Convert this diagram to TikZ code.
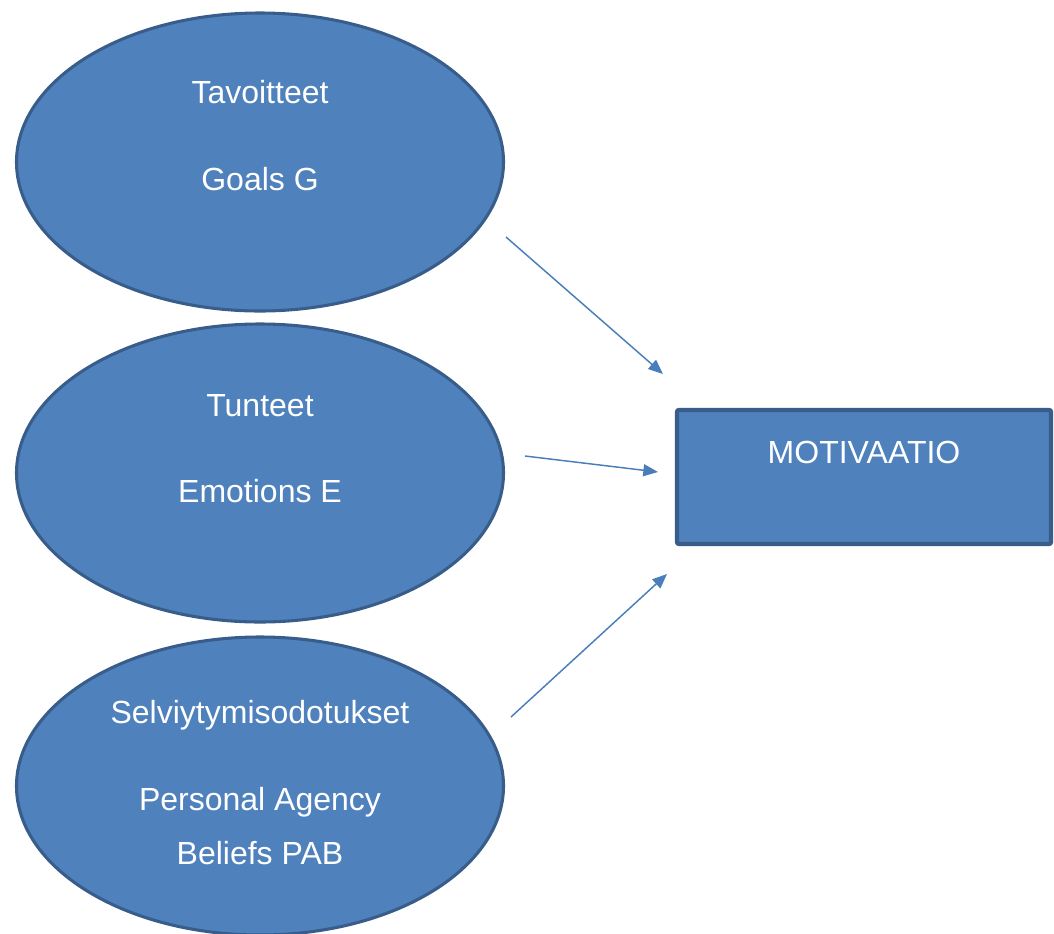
\documentclass[tikz,border=0pt]{standalone}
\usepackage{fontspec}
\setmainfont{Liberation Sans}
\usetikzlibrary{arrows.meta,shapes.geometric}
\definecolor{fillblue}{HTML}{4F81BD}
\definecolor{edgeblue}{HTML}{385D8A}
\definecolor{arrowblue}{HTML}{4A7EBB}
\begin{document}
\begin{tikzpicture}[x=0.75pt,y=-0.75pt,
  oval/.style={ellipse,fill=fillblue,draw=edgeblue,line width=2.3pt,inner sep=0pt,minimum width=487*0.75pt,minimum height=298*0.75pt},
  lbl/.style={text=white,font=\fontsize{24pt}{28pt}\selectfont,inner sep=0pt,anchor=base},
  conn/.style={draw=arrowblue,line width=1.1pt,-{Triangle[length=11pt,width=9pt]}}]
\useasboundingbox (0,0) rectangle (1054,933);
\begin{scope}
\clip (0,0) rectangle (1054,933);
\node[oval] (g) at (260,162) {};
\node[oval] (e) at (260,473) {};
\node[oval] (p) at (260,786) {};
\end{scope}
\draw[fill=fillblue,draw=edgeblue,line width=3.2pt,rounded corners=1.5pt] (677,410) rectangle (1051,544);
\node[lbl] (t1) at (260,103) {Tavoitteet};
\node[lbl] (t2) at (260,190) {Goals G};
\node[lbl] (t3) at (260,416) {Tunteet};
\node[lbl] (t4) at (260,502) {Emotions E};
\node[lbl] (t5) at (260,723) {Selviytymisodotukset};
\node[lbl] (t6) at (260,810) {Personal Agency};
\node[lbl] (t7) at (260,864) {Beliefs PAB};
\node[lbl] (m) at (864,463) {MOTIVAATIO};
\coordinate (a1s) at (506,237); \coordinate (a1e) at (663,374);
\coordinate (a2s) at (525,456); \coordinate (a2e) at (658,472);
\coordinate (a3s) at (511,717); \coordinate (a3e) at (667,574);
\draw[conn] (a1s) -- (a1e);
\draw[conn] (a2s) -- (a2e);
\draw[conn] (a3s) -- (a3e);
\end{tikzpicture}
\end{document}
